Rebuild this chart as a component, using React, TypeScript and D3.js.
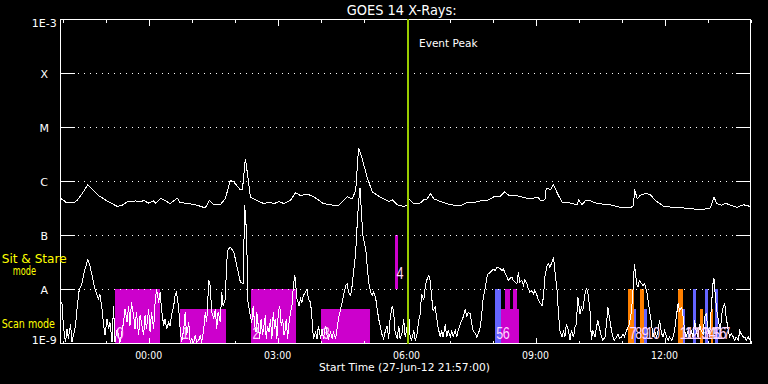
import React from "react";
import * as d3 from "d3";

const START_TIME = "2012-06-27T21:57:00Z";
const END_TIME = "2012-06-28T14:00:00Z";
const EVENT_PEAK_TIME = "2012-06-28T06:02:00Z";
const TITLE = "GOES 14 X-Rays:";
const X_TITLE = "Start Time (27-Jun-12 21:57:00)";

const classLabels = ["1E-9", "A", "B", "C", "M", "X", "1E-3"];
const classFlux = [1e-9, 1e-8, 1e-7, 1e-6, 1e-5, 1e-4, 1e-3];

// [minutes after start, log10 flux (W/m^2)] — long wavelength channel
const longChannel: [number, number][] = [
  [1,-6.32],[5,-6.35],[8,-6.39],[19,-6.39],[23,-6.35],[30,-6.23],[38,-6.06],[44,-6.14],[53,-6.26],[65,-6.36],
  [79,-6.46],[86,-6.44],[93,-6.38],[105,-6.36],[112,-6.38],[116,-6.35],[123,-6.40],[130,-6.36],[133,-6.40],[140,-6.31],
  [147,-6.36],[153,-6.41],[163,-6.31],[167,-6.39],[179,-6.41],[191,-6.44],[202,-6.49],[208,-6.35],[214,-6.43],[223,-6.43],
  [230,-6.32],[237,-5.98],[242,-6.01],[250,-6.14],[254,-6.14],[258,-5.58],[261,-5.86],[265,-6.29],[274,-6.35],[284,-6.41],
  [291,-6.38],[298,-6.41],[305,-6.37],[312,-6.41],[321,-6.35],[328,-6.21],[335,-6.26],[344,-6.23],[351,-6.27],[358,-6.32],
  [367,-6.41],[381,-6.44],[388,-6.44],[395,-6.35],[400,-6.28],[407,-6.32],[412,-6.17],[416,-5.38],[421,-5.58],[428,-5.92],
  [435,-6.19],[446,-6.29],[458,-6.37],[463,-6.34],[470,-6.43],[479,-6.46],[484,-6.44],[486,-6.32],[493,-6.41],[502,-6.40],
  [507,-6.34],[512,-6.32],[516,-6.22],[521,-6.32],[528,-6.36],[535,-6.39],[544,-6.43],[558,-6.45],[567,-6.39],[577,-6.39],
  [586,-6.36],[598,-6.34],[605,-6.28],[614,-6.27],[620,-6.19],[626,-6.26],[635,-6.26],[642,-6.28],[651,-6.31],[660,-6.31],
  [666,-6.29],[670,-6.35],[676,-6.34],[678,-6.12],[684,-6.15],[688,-6.06],[695,-6.26],[700,-6.38],[712,-6.40],[721,-6.43],
  [723,-6.34],[728,-6.43],[733,-6.35],[740,-6.36],[749,-6.41],[767,-6.43],[781,-6.48],[795,-6.49],[800,-6.44],[801,-6.14],
  [805,-6.32],[809,-6.26],[816,-6.22],[823,-6.24],[830,-6.35],[842,-6.46],[856,-6.48],[870,-6.49],[884,-6.51],[895,-6.52],
  [907,-6.49],[912,-6.29],[916,-6.41],[923,-6.44],[928,-6.40],[935,-6.44],[944,-6.48],[953,-6.43],[962,-6.46],
];

// [minutes after start, log10 flux (W/m^2)] — short wavelength channel
const shortChannel: [number, number][] = [
  [2,-8.24],[4,-8.67],[7,-8.98],[9,-8.73],[11,-8.91],[14,-8.64],[16,-8.98],[18,-8.85],[21,-8.67],[23,-8.36],
  [26,-8.02],[30,-7.89],[33,-7.68],[38,-7.45],[41,-7.56],[44,-7.74],[47,-7.93],[51,-8.11],[53,-8.17],[55,-8.08],
  [58,-8.36],[60,-8.64],[62,-8.85],[65,-8.54],[67,-8.73],[69,-8.61],[72,-8.98],[74,-8.30],[76,-8.98],[79,-8.73],
  [83,-8.98],[88,-8.61],[90,-8.36],[93,-8.61],[95,-8.30],[97,-8.67],[99,-8.24],[102,-8.48],[104,-8.73],[106,-8.42],
  [109,-8.85],[111,-8.48],[113,-8.61],[116,-8.85],[118,-8.48],[120,-8.73],[123,-8.36],[125,-8.79],[127,-8.42],[130,-8.73],
  [132,-8.24],[134,-7.99],[137,-8.24],[139,-8.05],[141,-8.36],[144,-8.67],[146,-8.54],[148,-8.73],[151,-8.61],[153,-8.67],
  [155,-8.48],[158,-8.30],[160,-8.11],[162,-8.05],[165,-8.36],[167,-8.73],[169,-8.98],[172,-8.73],[174,-8.42],[176,-8.85],
  [179,-8.61],[181,-8.98],[183,-8.91],[186,-8.98],[188,-8.85],[190,-8.98],[193,-8.94],[195,-8.85],[197,-8.98],[200,-8.73],
  [202,-8.42],[204,-8.61],[207,-7.83],[209,-7.93],[211,-8.42],[214,-8.54],[216,-8.36],[218,-8.73],[220,-8.42],[223,-8.61],
  [225,-8.05],[227,-8.30],[230,-8.17],[232,-7.49],[234,-7.25],[237,-7.22],[239,-7.25],[242,-7.31],[247,-7.62],[251,-7.86],
  [255,-7.89],[257,-6.44],[260,-7.00],[261,-8.17],[264,-8.42],[267,-8.61],[269,-8.30],[271,-8.67],[273,-8.79],[274,-8.42],
  [276,-8.67],[278,-8.91],[280,-8.54],[282,-8.85],[284,-8.67],[286,-8.48],[287,-8.91],[289,-8.67],[291,-8.79],[293,-8.54],
  [295,-8.91],[297,-8.42],[299,-8.73],[300,-8.54],[302,-8.91],[304,-8.42],[306,-8.30],[308,-8.67],[310,-8.54],[312,-8.85],
  [314,-8.73],[315,-8.54],[317,-8.91],[319,-8.61],[321,-8.42],[323,-8.30],[325,-7.93],[327,-7.74],[328,-7.86],[330,-8.17],
  [333,-8.30],[335,-8.17],[337,-8.24],[339,-8.11],[342,-8.05],[344,-7.99],[346,-8.17],[349,-8.24],[351,-8.54],[353,-8.91],
  [356,-8.79],[358,-8.91],[360,-8.67],[363,-8.91],[365,-8.73],[367,-8.91],[370,-8.67],[372,-8.85],[374,-8.91],[377,-8.79],
  [379,-8.91],[381,-8.79],[384,-8.91],[386,-8.73],[388,-8.54],[391,-8.36],[393,-8.24],[395,-8.11],[398,-7.93],[400,-7.89],
  [402,-8.05],[405,-8.11],[407,-7.93],[409,-7.68],[412,-7.31],[414,-6.81],[416,-6.38],[418,-6.13],[420,-6.57],[422,-7.00],
  [426,-7.25],[428,-7.56],[430,-7.86],[433,-8.05],[435,-8.11],[437,-8.05],[440,-8.17],[442,-8.36],[444,-8.54],[447,-8.73],
  [449,-8.85],[451,-8.91],[453,-8.79],[456,-8.67],[458,-8.91],[460,-8.54],[463,-8.30],[465,-8.42],[467,-8.79],[470,-8.91],
  [472,-8.67],[474,-8.91],[477,-8.79],[479,-8.54],[481,-8.88],[483,-8.76],[486,-8.45],[488,-8.88],[490,-8.94],[493,-8.76],
  [495,-8.94],[497,-8.88],[500,-8.57],[502,-8.45],[504,-8.08],[507,-8.20],[509,-7.96],[511,-7.83],[514,-7.74],[516,-7.83],
  [518,-8.14],[520,-8.39],[523,-8.33],[525,-8.51],[527,-8.70],[530,-8.88],[532,-8.76],[534,-8.88],[537,-8.64],[539,-8.88],
  [541,-8.76],[544,-8.88],[546,-8.76],[548,-8.88],[551,-8.76],[553,-8.88],[555,-8.76],[558,-8.64],[560,-8.57],[562,-8.51],
  [565,-8.36],[567,-8.51],[569,-8.42],[572,-8.45],[574,-8.64],[576,-8.76],[579,-8.82],[581,-8.88],[583,-8.82],[586,-8.70],
  [588,-8.45],[590,-8.14],[593,-7.96],[595,-7.77],[597,-7.71],[600,-7.68],[602,-7.65],[604,-7.62],[607,-7.65],[609,-7.59],
  [611,-7.59],[614,-7.62],[616,-7.65],[618,-7.62],[621,-7.71],[623,-7.77],[625,-7.83],[627,-7.80],[630,-7.77],[632,-7.83],
  [634,-7.86],[637,-7.89],[639,-7.68],[641,-7.86],[644,-7.83],[646,-7.93],[648,-7.83],[651,-7.89],[653,-7.99],[655,-8.05],
  [658,-8.02],[660,-8.08],[662,-8.02],[665,-8.11],[667,-8.20],[669,-8.24],[672,-8.30],[674,-8.14],[676,-7.77],[679,-7.56],
  [681,-7.52],[683,-7.59],[686,-7.49],[688,-7.40],[690,-7.65],[693,-8.02],[695,-8.45],[697,-8.76],[700,-8.88],[702,-8.76],
  [704,-8.88],[706,-8.64],[709,-8.76],[711,-8.94],[713,-8.76],[716,-8.88],[718,-8.70],[720,-8.64],[722,-8.14],[725,-8.45],
  [727,-8.33],[729,-8.39],[732,-8.08],[734,-7.99],[736,-8.05],[739,-8.39],[741,-8.94],[743,-8.76],[746,-8.88],[748,-8.70],
  [750,-8.57],[753,-8.76],[755,-8.88],[757,-8.94],[760,-8.88],[762,-8.64],[764,-8.33],[766,-8.51],[769,-8.76],[771,-8.88],
  [773,-8.94],[776,-8.88],[778,-8.82],[780,-8.91],[783,-8.88],[785,-8.82],[787,-8.88],[790,-8.76],[792,-8.70],[794,-8.64],
  [797,-8.39],[799,-8.02],[801,-7.52],[804,-7.89],[806,-7.96],[808,-7.83],[811,-7.89],[813,-7.93],[815,-7.89],[818,-8.02],
  [820,-8.20],[822,-8.39],[825,-8.64],[827,-8.88],[829,-8.76],[832,-8.88],[834,-8.76],[836,-8.57],[839,-8.82],[841,-8.88],
  [843,-8.76],[846,-8.88],[848,-8.94],[850,-8.88],[853,-8.94],[855,-8.88],[857,-8.76],[860,-8.45],[862,-8.26],[864,-8.39],
  [867,-8.33],[869,-8.51],[871,-8.76],[873,-8.88],[876,-8.76],[878,-8.88],[880,-8.76],[883,-8.88],[885,-8.57],[887,-8.76],
  [890,-8.88],[892,-8.64],[894,-8.76],[897,-8.82],[899,-8.51],[901,-8.45],[904,-8.76],[906,-8.88],[908,-8.39],[911,-7.83],
  [912,-7.80],[914,-8.14],[916,-8.39],[919,-8.64],[921,-8.76],[923,-8.45],[925,-8.33],[927,-8.26],[929,-8.51],[932,-8.76],
  [934,-8.88],[936,-8.82],[939,-8.88],[941,-8.94],[943,-8.88],[946,-8.94],[948,-8.76],[950,-8.82],[953,-8.88],[955,-8.88],
  [957,-8.94],[960,-8.88],[962,-8.94],
];

// Observation blocks (minutes after start)
const obsLabel = ["0","1","2","3","4","5","6","","","7","8","9","10","11","12","13","14","15","16","17"];
const obsStart = [76,167,266,364,467,606,615,620,632,792,800,809,815,862,869,883,893,899,908,913];
const obsEnd   = [139,231,329,432,471,615,640,627,637,800,803,815,819,869,872,887,897,903,911,917];
const obsMode  = ["sit","scan","sit","scan","high","sit","scan","sit","sit","sit","scan","sit","scan","sit","scan","sit","scan","sit","scan","sit"];
const obsInst  = ["m","m","m","m","m","b","m","m","m","o","b","o","b","o","b","b","o","b","o","b"];

const instColor: Record<string, string> = { m: "#cc00cc", b: "#6464ff", o: "#ff8000" };
// [bottom flux, top flux] per mode
const modeRange: Record<string, [number, number]> = {
  sit: [1e-9, 1e-8],
  scan: [1e-9, 4.2e-9],
  high: [1e-8, 1e-7],
};

const FONT = "DejaVu Sans, Liberation Sans, sans-serif";

export default function App() {
  const W = 768, H = 384;
  const L = 60.5, R = 750.5, T = 19.5, B = 343.5;
  const start = new Date(START_TIME);
  const end = new Date(END_TIME);
  const x = d3.scaleUtc().domain([start, end]).range([L, R]);
  const y = d3.scaleLog().domain([1e-9, 1e-3]).range([B, T]);
  const tm = (min: number) => new Date(start.getTime() + min * 60000);
  const line = d3
    .line<[number, number]>()
    .x((d) => x(tm(d[0])))
    .y((d) => y(Math.pow(10, d[1])));

  const hourTicks = x.ticks(d3.utcHour.every(1)!);
  const fmt = d3.utcFormat("%H:%M");
  const peakX = x(new Date(EVENT_PEAK_TIME));

  return (
    <svg
      width={W}
      height={H}
      style={{ position: "absolute", left: 0, top: 0, display: "block" }}
      fontFamily={FONT}
    >
      <defs>
        <clipPath id="plot">
          <rect x={L} y={T} width={R - L} height={B - T} />
        </clipPath>
      </defs>
      <rect x={0} y={0} width={W} height={H} fill="#000" />

      {/* observation blocks */}
      <g clipPath="url(#plot)" shapeRendering="crispEdges">
        {obsStart.map((s, i) => {
          const [lo, hi] = modeRange[obsMode[i]];
          const x0 = Math.round(x(tm(s)));
          const x1 = Math.round(x(tm(obsEnd[i])));
          const y0 = Math.floor(y(hi));
          const y1 = Math.floor(y(lo));
          return (
            <rect key={i} x={x0} y={y0} width={Math.max(1, x1 - x0)} height={y1 - y0} fill={instColor[obsInst[i]]} />
          );
        })}
      </g>

      {/* class gridlines */}
      <g stroke="#fff" shapeRendering="crispEdges">
        {classFlux.slice(1, -1).map((f, i) => {
          const yy = y(f);
          return (
            <g key={i}>
              <line x1={L} x2={75} y1={yy} y2={yy} />
              <line x1={78} x2={735} y1={yy} y2={yy} strokeDasharray="1 5" />
              <line x1={736} x2={R} y1={yy} y2={yy} />
            </g>
          );
        })}
      </g>

      {/* flux curves */}
      <g clipPath="url(#plot)" fill="none" stroke="#fff" strokeWidth={1} shapeRendering="crispEdges">
        <path d={line(longChannel) || ""} />
        <path d={line(shortChannel) || ""} />
      </g>

      {/* frame */}
      <rect x={L} y={T} width={R - L} height={B - T} fill="none" stroke="#fff" shapeRendering="crispEdges" />
      <g stroke="#fff" shapeRendering="crispEdges">
        {hourTicks.map((d, i) => {
          const xx = Math.round(x(d)) + 0.5;
          const major = d.getUTCHours() % 3 === 0;
          const len = major ? 6 : 3;
          return (
            <g key={i}>
              <line x1={xx} x2={xx} y1={T} y2={T + len} />
              <line x1={xx} x2={xx} y1={B} y2={B - len} />
            </g>
          );
        })}
      </g>

      {/* event peak */}
      <line x1={peakX} x2={peakX} y1={T - 0.5} y2={B} stroke="#99cc00" strokeWidth={2} shapeRendering="crispEdges" />
      <text x={419} y={46.5} fill="#fff" fontSize={11} textLength={58.5} lengthAdjust="spacingAndGlyphs">
        Event Peak
      </text>

      {/* observation labels */}
      <g fill="#ffd8ff" fontFamily="Liberation Sans, DejaVu Sans, sans-serif" fontSize={16}>
        {obsLabel.map((lab, i) =>
          lab ? (
            <text
              key={i}
              x={x(tm(obsStart[i])) + 1.5}
              y={obsMode[i] === "high" ? 278.5 : 338.5}
              textLength={7 * lab.length}
              lengthAdjust="spacingAndGlyphs"
            >
              {lab}
            </text>
          ) : null
        )}
      </g>

      {/* y labels */}
      <g fill="#fff" fontSize={11} textAnchor="middle">
        {classFlux.map((f, i) => {
          const by = Math.min(344, Math.max(27, y(f) + 4));
          return (
            <text key={i} x={44.2} y={by}>
              {classLabels[i]}
            </text>
          );
        })}
      </g>

      {/* x labels */}
      <g fill="#fff" fontSize={10} textAnchor="middle">
        {hourTicks
          .filter((d) => d.getUTCHours() % 3 === 0)
          .map((d, i) => (
            <text key={i} x={x(d)} y={358.5} textLength={27} lengthAdjust="spacingAndGlyphs">
              {fmt(d)}
            </text>
          ))}
      </g>
      <text x={319} y={371} fill="#fff" fontSize={10.5} textLength={171} lengthAdjust="spacingAndGlyphs">
        {X_TITLE}
      </text>
      <text x={346.7} y={15} fill="#fff" fontSize={13.5} textLength={110} lengthAdjust="spacingAndGlyphs">
        {TITLE}
      </text>

      {/* mode annotations */}
      <g fill="#ffff00" fontSize={12}>
        <text x={1.7} y={263} textLength={65} lengthAdjust="spacingAndGlyphs">Sit &amp; Stare</text>
        <text x={12.7} y={275} textLength={23.3} lengthAdjust="spacingAndGlyphs">mode</text>
        <text x={1.7} y={328} textLength={53.3} lengthAdjust="spacingAndGlyphs">Scan mode</text>
      </g>
    </svg>
  );
}
